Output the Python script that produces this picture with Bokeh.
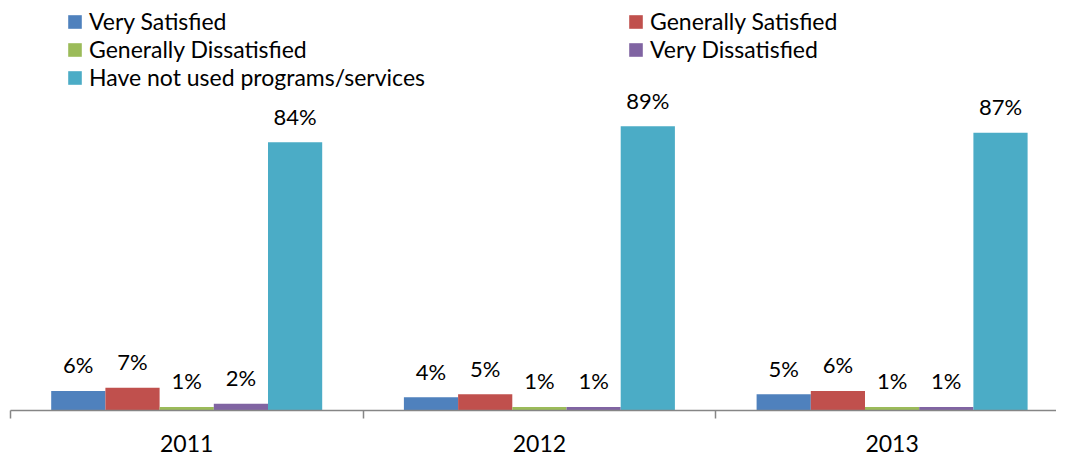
from bokeh.plotting import figure
from bokeh.models import (Range1d, LinearAxis, FixedTicker, Legend, LegendItem,
                          ColumnDataSource)
from bokeh.transform import dodge
from bokeh.core.properties import value
from bokeh.embed import file_html
from bokeh.resources import INLINE

# ---- data ----
years = ["2011", "2012", "2013"]
series = ["Very Satisfied", "Generally Satisfied", "Generally Dissatisfied",
          "Very Dissatisfied", "Have not used programs/services"]
very_satisfied = [6, 4, 5]
generally_satisfied = [7, 5, 6]
generally_dissatisfied = [1, 1, 1]
very_dissatisfied = [2, 1, 1]
not_used = [84, 89, 87]
colors = ["#4F81BD", "#C0504D", "#9BBB59", "#8064A2", "#4BACC6"]

values = [very_satisfied, generally_satisfied, generally_dissatisfied,
          very_dissatisfied, not_used]

FONT = "Lato"
W, H = 1056, 456
PX_PER_UNIT = 3.188      # pixels per percentage point
BASE_PX = 409.6          # canvas y of the category axis
CAT_PX = 352.7           # pixels per category
LEFT_PX = 9.85           # canvas x of the first category boundary

centers = [i + 0.5 for i in range(len(years))]
bounds = [i for i in range(len(years) + 1)]
bar_w = 54.2 / CAT_PX

p = figure(width=W, height=H,
           x_range=Range1d(-LEFT_PX / CAT_PX, (W - LEFT_PX) / CAT_PX),
           y_range=Range1d(-(H - BASE_PX) / PX_PER_UNIT, BASE_PX / PX_PER_UNIT),
           output_backend="svg", toolbar_location=None,
           x_axis_location=None, y_axis_location=None,
           min_border=0, min_border_left=0, min_border_right=0,
           min_border_top=0, min_border_bottom=0,
           outline_line_color=None, background_fill_color="white",
           border_fill_color="white")
p.grid.visible = False

renderers = []
n = len(series)
for j, (name, vals, col) in enumerate(zip(series, values, colors)):
    src = ColumnDataSource(dict(x=centers, v=vals,
                                lab=[f"{v}%" for v in vals]))
    off = (j - (n - 1) / 2) * bar_w
    r = p.vbar(x=dodge("x", off, range=p.x_range), top="v", bottom=0,
               width=bar_w, source=src, fill_color=col, line_color=None)
    renderers.append(r)
    p.text(x=dodge("x", off, range=p.x_range), y="v", text="lab", source=src,
           y_offset=-26, text_align="center", text_baseline="middle",
           text_font=value(FONT), text_font_size="22px", text_color="black")

xaxis = LinearAxis(fixed_location=0, bounds=(bounds[0], bounds[-1]),
                   ticker=FixedTicker(ticks=centers, minor_ticks=bounds),
                   major_label_overrides={c: y for c, y in zip(centers, years)},
                   axis_line_color="#868686", axis_line_width=1.5,
                   major_tick_line_color=None, major_tick_out=0, major_tick_in=0,
                   minor_tick_line_color="#868686", minor_tick_line_width=1.5,
                   minor_tick_out=8, minor_tick_in=0,
                   major_label_standoff=17,
                   major_label_text_font=FONT,
                   major_label_text_font_size="23px",
                   major_label_text_color="black")
p.add_layout(xaxis, "below")

# legend: two columns, laid out as in the reference (row by row)
ROW_H = 28
legend_style = dict(border_line_color=None, background_fill_alpha=0,
                    padding=0, margin=0, spacing=0,
                    glyph_width=17, glyph_height=17, label_standoff=6,
                    label_height=ROW_H,
                    label_text_font=FONT, label_text_font_size="23px",
                    label_text_color="black")
col_x = [66, 627]
row_y = [21, 49, 77]
for k in range(n):
    row, col = divmod(k, 2)
    leg = Legend(items=[LegendItem(label=series[k], renderers=[renderers[k]])],
                 location=(col_x[col], H - row_y[row] - ROW_H / 2),
                 **legend_style)
    p.add_layout(leg)

open("out.html", "w").write(file_html(p, INLINE))
